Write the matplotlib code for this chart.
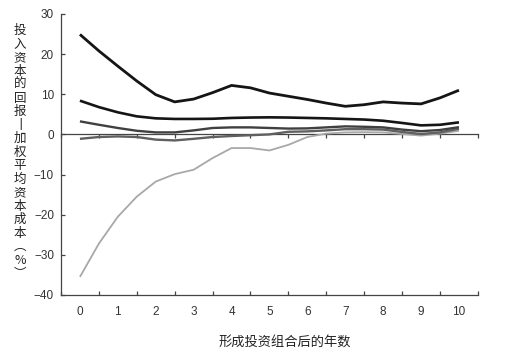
import numpy as np
import matplotlib
matplotlib.use("Agg")
import matplotlib.pyplot as plt

plt.rcParams['font.family'] = ['Noto Sans CJK SC', 'DejaVu Sans']

# years after portfolio formation (read at half-year steps)
years = [0, 0.5, 1, 1.5, 2, 2.5, 3, 3.5, 4, 4.5, 5, 5.5, 6, 6.5, 7, 7.5, 8, 8.5, 9, 9.5, 10]

# ROIC - WACC (%), five portfolios
top = [24.9, 20.8, 17.0, 13.3, 9.9, 8.1, 8.8, 10.4, 12.2, 11.6, 10.3, 9.5, 8.7, 7.8, 7.0, 7.4, 8.1, 7.8, 7.6, 9.1, 11.0]
upper_mid = [8.4, 6.8, 5.5, 4.5, 4.0, 3.85, 3.85, 3.9, 4.1, 4.2, 4.25, 4.2, 4.1, 4.0, 3.85, 3.7, 3.4, 2.85, 2.25, 2.4, 3.0]
mid = [3.25, 2.4, 1.6, 0.9, 0.5, 0.5, 1.0, 1.6, 1.75, 1.75, 1.6, 1.45, 1.5, 1.75, 2.0, 1.9, 1.75, 1.2, 0.8, 1.1, 1.8]
lower_mid = [-1.1, -0.65, -0.5, -0.65, -1.3, -1.5, -1.1, -0.65, -0.4, -0.2, 0.0, 0.65, 0.75, 1.0, 1.3, 1.3, 1.2, 0.6, 0.1, 0.5, 1.4]
bottom = [-35.5, -27.2, -20.5, -15.5, -11.75, -9.9, -8.8, -5.9, -3.4, -3.4, -4.0, -2.6, -0.65, 0.2, 0.5, 0.55, 0.5, 0.1, -0.3, 0.2, 0.9]

ylabel_chars = list("投入资本的回报") + ["丨"] + list("加权平均资本成本") + ["︵", "%", "︶"]
xlabel = "形成投资组合后的年数"

fig = plt.figure(figsize=(5.15, 3.58), dpi=100)
ax = fig.add_axes([0.1184, 0.176, 0.8096, 0.785])

ax.plot(years, bottom, color='#a8a8a8', lw=1.3, solid_capstyle='butt')
ax.plot(years, lower_mid, color='#606060', lw=1.7, solid_capstyle='butt')
ax.plot(years, mid, color='#404040', lw=1.7, solid_capstyle='butt')
ax.plot(years, upper_mid, color='#151515', lw=1.9, solid_capstyle='butt')
ax.plot(years, top, color='#151515', lw=2.0, solid_capstyle='butt')

ax.set_xlim(-0.5, 10.5)
ax.set_ylim(-40, 30)

for s in ['top', 'right']:
    ax.spines[s].set_visible(False)
for s in ['left', 'bottom']:
    ax.spines[s].set_color('#444444')
    ax.spines[s].set_linewidth(0.9)

ax.set_xticks(range(0, 11))
ax.set_xticks(np.arange(-0.5, 10.6, 1), minor=True)
ax.set_yticks(range(-40, 31, 10))
ax.tick_params(axis='x', which='major', length=0, pad=8, labelsize=8.5, labelcolor='#333333')
ax.tick_params(axis='x', which='minor', direction='in', length=3, color='#444444', width=0.9)
ax.tick_params(axis='y', direction='in', length=3, color='#444444', width=0.9, pad=5,
               labelsize=8.5, labelcolor='#333333')
for lab in ax.get_xticklabels() + ax.get_yticklabels():
    lab.set_family(['Liberation Sans', 'DejaVu Sans'])

# zero line with its own tick marks
zero = ax.secondary_xaxis(40 / 70)
for s in ['top', 'bottom']:
    zero.spines[s].set_color('#444444')
    zero.spines[s].set_linewidth(0.9)
zero.set_xticks(np.arange(-0.5, 10.6, 1))
zero.set_xticklabels([])
zero.tick_params(axis='x', direction='in', length=3, color='#444444', width=0.9)

fig.text(0.039, 0.575, "\n".join(ylabel_chars), ha='center', va='center', fontsize=9,
         linespacing=1.05, color='#222222')
fig.text(0.553, 0.042, xlabel, ha='center', va='center', fontsize=9.5, color='#222222')

fig.savefig("out.png", dpi=100)
